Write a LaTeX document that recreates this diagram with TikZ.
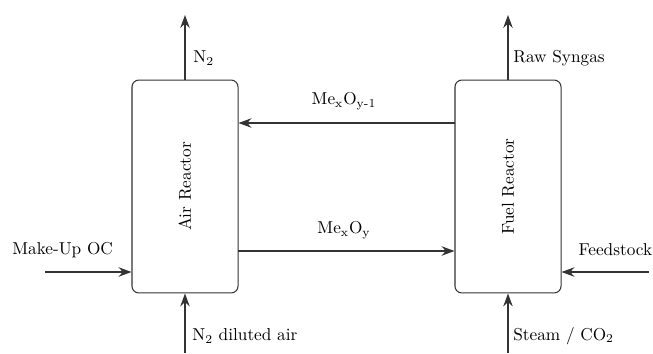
\documentclass[tikz,border=0pt]{standalone}
\usetikzlibrary{arrows.meta}
\begin{document}
\begin{tikzpicture}[x=0.58pt,y=-0.58pt,
  reactor/.style={draw=black!80,rounded corners=4pt,minimum width=61.5pt,minimum height=123.5pt,line width=0.6pt,inner sep=0pt},
  flow/.style={draw=black!80,line width=0.6pt,-{Stealth[length=7.5pt,width=5.5pt,inset=2.5pt]}},
  lbl/.style={inner sep=0pt}]
\useasboundingbox (0,0) rectangle (653,353);
\node[reactor] (air) at (185,186.5) {};
\node[rotate=90] (airt) at (185,186.5) {Air Reactor};
\node[reactor] (fuel) at (508,186.5) {};
\node[rotate=90] (fuelt) at (508,186.5) {Fuel Reactor};
% free ends
\coordinate (n2top) at (185,15);
\coordinate (rstop) at (508,15);
\coordinate (n2bot) at (185,353);
\coordinate (stbot) at (508,353);
\coordinate (muleft) at (45,272);
\coordinate (fsright) at (649,272);
\draw[flow] (air.north) -- (n2top);
\draw[flow] (fuel.north) -- (rstop);
\draw[flow] (n2bot) -- (air.south);
\draw[flow] (stbot) -- (fuel.south);
\draw[flow] (muleft) -- (muleft -| air.west);
\draw[flow] (fsright) -- (fsright -| fuel.east);
\coordinate (tA) at (455,123);
\coordinate (tB) at (238,251);
\draw[flow] (tA) -- (tA -| air.east);
\draw[flow] (tB) -- (tB -| fuel.west);
\node[lbl,anchor=west] (ln2) at (193,58) {N\textsubscript{2}};
\node[lbl,anchor=west] (lrs) at (513,58) {Raw Syngas};
\node[lbl] (lme1) at (344,101) {Me\textsubscript{x}O\textsubscript{y-1}};
\node[lbl] (lme) at (344,230) {Me\textsubscript{x}O\textsubscript{y}};
\node[lbl,anchor=west] (lmu) at (12,250) {Make-Up OC};
\node[lbl,anchor=east] (lfs) at (652.5,250) {Feedstock};
\node[lbl,anchor=west] (ln2d) at (192,336) {N\textsubscript{2} diluted air};
\node[lbl,anchor=west] (lst) at (513,336) {Steam / CO\textsubscript{2}};
\end{tikzpicture}
\end{document}
